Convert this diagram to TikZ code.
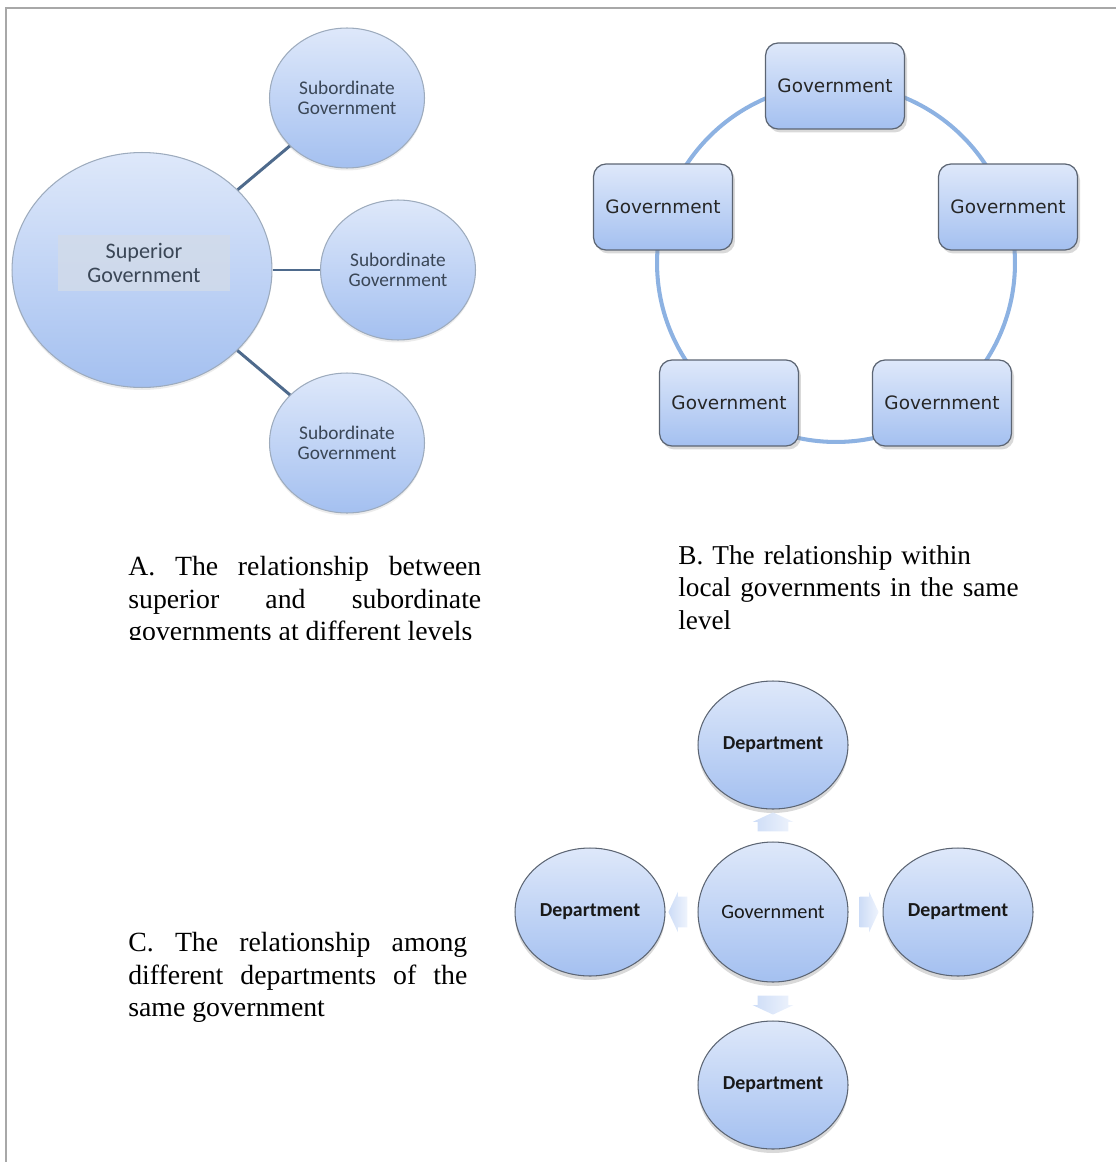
\documentclass[tikz,border=0pt]{standalone}
\usepackage{fontspec}
\setmainfont{Liberation Serif}
\newfontfamily\diagfont{Carlito}
\newfontfamily\boxfont{DejaVu Sans}
\usetikzlibrary{calc,positioning,shapes.geometric,shapes.arrows,shadows}
\hyphenpenalty=10000

\definecolor{bubtop}{HTML}{DEE8FA}
\definecolor{bubbot}{HTML}{A4C0F0}
\definecolor{bubedge}{HTML}{9DABBD}
\definecolor{darkedge}{HTML}{5C6573}
\definecolor{linkblue}{HTML}{4E6A8C}
\definecolor{ringblue}{HTML}{8DB2E2}
\definecolor{labelgray}{HTML}{3A4656}
\definecolor{framegray}{HTML}{A8A8A8}
\definecolor{tagfill}{HTML}{D2DBE9}

\tikzset{%
	bubble/.style     = {ellipse, draw=bubedge, line width=0.6pt, top color=bubtop, bottom color=bubbot, inner sep=0pt, align=center, text=labelgray, font=\diagfont\fontsize{11}{11.6}\selectfont, drop shadow={shadow xshift=0cm, shadow yshift=-0.05cm, opacity=0.15}},
	govbox/.style     = {rectangle, rounded corners=0.25cm, draw=darkedge, line width=0.7pt, top color=bubtop, bottom color=bubbot, minimum width=2.78cm, minimum height=1.72cm, text=black!85, font=\boxfont\fontsize{10.5}{12}\selectfont, drop shadow={shadow xshift=0.05cm, shadow yshift=-0.07cm, opacity=0.3}},
	dept/.style       = {ellipse, draw=darkedge, line width=0.6pt, top color=bubtop, bottom color=bubbot, minimum width=3cm, minimum height=2.56cm, inner sep=0pt, text=black!90, font=\diagfont\bfseries\fontsize{11.3}{13}\selectfont, drop shadow={shadow xshift=0cm, shadow yshift=-0.08cm, opacity=0.3}},
	link/.style       = {draw=linkblue, line width=1.7pt},
	blockarrow/.style = {single arrow, left color=bubbot!55!white, right color=bubtop!50!white, minimum height=0.38cm, inner xsep=0pt, inner ysep=0.3cm, single arrow head extend=0.1cm, single arrow tip angle=130},
	caption/.style    = {anchor=north west, inner sep=0pt, font=\fontsize{15.8}{18.5}\selectfont},
}

\begin{document}
\begin{tikzpicture}[x=0.02cm, y=-0.02cm]
	\useasboundingbox (0,0) rectangle (1116,1162);
	\draw[framegray, line width=1.7pt] (6,1162) -- (6,8) -- (1116,8);
	
	% A: superior and subordinate governments
	\node[bubble, minimum width=5.2cm, minimum height=4.7cm] (sup) at (142,270) {};
	\node[fill=tagfill, fill opacity=0.8, text opacity=1, minimum width=3.46cm, minimum height=1.12cm, align=center, text=labelgray, font=\diagfont\fontsize{12.6}{13.8}\selectfont] (supLabel) at (144,263) {Superior\\Government};
	\foreach \name/\pos in {subA/{(347,98)}, subB/{(398,270)}, subC/{(347,443)}} {
		\node[bubble, minimum width=3.1cm, minimum height=2.8cm] (\name) at \pos {Subordinate\\Government};
		\draw[link] (sup) -- (\name);
	}
	\begin{scope}
		\clip (100,540) rectangle (500,639);
		\node[caption, text width=7.06cm, align=justify] (capA) at (128,556) {A. The relationship between superior and subordinate governments at different levels};
	\end{scope}
	
	% B: governments on the same level
	\node[circle, draw=ringblue, line width=2.3pt, minimum size=7.16cm, inner sep=0pt] (ring) at (836,263) {};
	\node[govbox] (govTop) at (835,86) {Government};
	\node[govbox] (govLeft) at (663,207) {Government};
	\node[govbox] (govRight) at (1008,207) {Government};
	\node[govbox] (govLowL) at (729,403) {Government};
	\node[govbox] (govLowR) at (942,403) {Government};
	\node[caption, text width=7cm, align=left, font=\fontsize{15.5}{18.5}\selectfont] (capB) at (678,545) {B. The relationship within\\local governments in the same\\level};
	
	% C: departments around one government
	\node[dept, minimum height=2.8cm, font=\diagfont\fontsize{11.5}{13}\selectfont] (gov) at (773,912) {Government};
	\node[dept] (deptN) at (773,745) {Department};
	\node[dept] (deptW) at (590,912) {Department};
	\node[dept] (deptE) at (958,912) {Department};
	\node[dept] (deptS) at (773,1085) {Department};
	\node[blockarrow, rotate=90] (toN) at ($(gov.north)!0.5!(deptN.south)$) {};
	\node[blockarrow, rotate=180] (toW) at ($(gov.west)!0.5!(deptW.east)$) {};
	\node[blockarrow] (toE) at ($(gov.east)!0.5!(deptE.west)$) {};
	\node[blockarrow, rotate=270] (toS) at ($(gov.south)!0.5!(deptS.north)$) {};
	\node[caption, text width=6.78cm, align=justify] (capC) at (128,932) {C. The relationship among different departments of the same government};
\end{tikzpicture}
\end{document}
